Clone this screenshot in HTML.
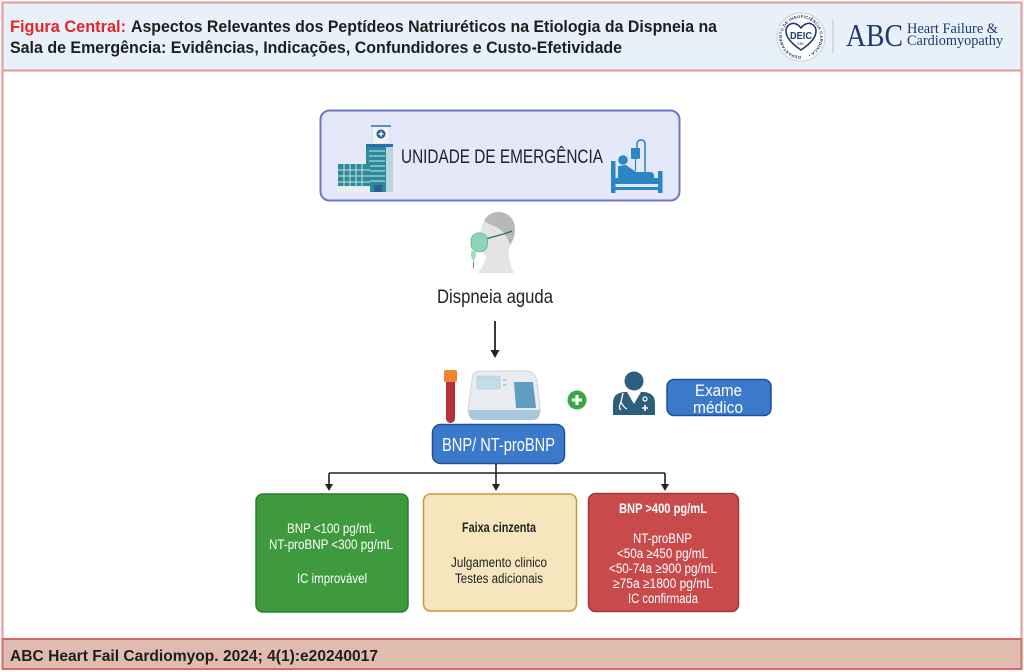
<!DOCTYPE html>
<html><head><meta charset="utf-8">
<style>
html,body{margin:0;padding:0;background:#fff;}
svg{display:block;}
text{font-family:"Liberation Sans Narrow","Liberation Sans",sans-serif;}
</style></head>
<body>
<svg width="1024" height="672" viewBox="0 0 1024 672" xmlns="http://www.w3.org/2000/svg">
<defs>
<path id="ring" d="M 801 56 A 19 19 0 1 1 801.1 56"/>
</defs>
<!-- frame -->
<rect x="0" y="0" width="1024" height="672" fill="#fff"/>
<rect x="2.5" y="2.5" width="1019" height="68" fill="#e8f0f9" stroke="#e59a9a" stroke-width="2"/>
<line x1="2.5" y1="70" x2="2.5" y2="639" stroke="#e59a9a" stroke-width="2"/>
<line x1="1021.5" y1="70" x2="1021.5" y2="639" stroke="#e59a9a" stroke-width="2"/>
<rect x="2.5" y="639" width="1019" height="30" fill="#e0bcaf" stroke="#d9686b" stroke-width="2"/>

<!-- title -->
<text x="10" y="32" font-size="17" font-weight="bold" fill="#e3262b" textLength="116" lengthAdjust="spacingAndGlyphs">Figura Central:</text>
<text x="131" y="32" font-size="17" font-weight="bold" fill="#1e1e1e" textLength="586" lengthAdjust="spacingAndGlyphs">Aspectos Relevantes dos Peptídeos Natriuréticos na Etiologia da Dispneia na</text>
<text x="10" y="53" font-size="17" font-weight="bold" fill="#1e1e1e" textLength="612" lengthAdjust="spacingAndGlyphs">Sala de Emergência: Evidências, Indicações, Confundidores e Custo-Efetividade</text>

<!-- logo seal -->
<circle cx="801" cy="37" r="24" fill="#fff" stroke="#c8cfdc" stroke-width="1"/>
<text font-size="4.2" fill="#1f3a6e" font-weight="bold" letter-spacing="0.3"><textPath href="#ring">DEPARTAMENTO DE INSUFICIÊNCIA CARDÍACA •</textPath></text>
<path d="M801 50 C 792 44, 786 38, 786 31 C 786 25, 792 22, 796 24 C 799 25, 800 27, 801 28 C 802 27, 803 25, 806 24 C 810 22, 816 25, 816 31 C 816 38, 810 44, 801 50 Z" fill="#fff" stroke="#1f3a6e" stroke-width="1.6"/>
<text x="801" y="39" font-size="10" font-weight="bold" fill="#1f3a6e" text-anchor="middle" textLength="22" lengthAdjust="spacingAndGlyphs">DEIC</text>
<text x="801" y="45" font-size="3.5" fill="#1f3a6e" text-anchor="middle">SBC</text>
<line x1="833" y1="20" x2="833" y2="53" stroke="#b8c2d0" stroke-width="1"/>
<text x="846" y="46" font-size="32" fill="#1f3a6e" textLength="57" lengthAdjust="spacingAndGlyphs" style="font-family:'Liberation Serif',serif">ABC</text>
<text x="907" y="33" font-size="14.5" fill="#1f3a6e" textLength="91" lengthAdjust="spacingAndGlyphs" style="font-family:'Liberation Serif',serif">Heart Failure &amp;</text>
<text x="907" y="45" font-size="14.5" fill="#1f3a6e" textLength="96" lengthAdjust="spacingAndGlyphs" style="font-family:'Liberation Serif',serif">Cardiomyopathy</text>

<!-- emergency box -->
<rect x="320.5" y="110.5" width="359" height="90" rx="9" fill="#e4e8f8" stroke="#6b77c4" stroke-width="2"/>
<text x="401" y="163" font-size="19.5" fill="#222" textLength="202" lengthAdjust="spacingAndGlyphs">UNIDADE DE EMERGÊNCIA</text>

<!-- hospital icon -->
<rect x="372" y="126" width="18" height="18" fill="#eef2f4" stroke="#cfd8dc" stroke-width="0.8"/>
<line x1="371" y1="126" x2="391" y2="126" stroke="#2a6fb0" stroke-width="1.5"/>
<circle cx="381" cy="134" r="4.5" fill="#2a5d8a"/>
<path d="M381 131.5v5M378.5 134h5" stroke="#fff" stroke-width="1.4"/>
<rect x="366" y="144" width="27" height="48" fill="#2d8a98"/>
<rect x="366" y="144" width="27" height="3" fill="#2670b0"/>
<rect x="386" y="147" width="7" height="45" fill="#b9d6dc"/>
<g stroke="#9fd0d8" stroke-width="1.4">
<line x1="369" y1="151" x2="385" y2="151"/><line x1="369" y1="156" x2="385" y2="156"/>
<line x1="369" y1="161" x2="385" y2="161"/><line x1="369" y1="166" x2="385" y2="166"/>
<line x1="369" y1="171" x2="385" y2="171"/><line x1="369" y1="176" x2="385" y2="176"/>
<line x1="369" y1="181" x2="385" y2="181"/>
</g>
<rect x="374" y="185" width="8" height="7" fill="#2b5f8e"/>
<rect x="338" y="164" width="32" height="28" fill="#2e8c99"/>
<g stroke="#c7e3e6" stroke-width="1">
<line x1="338" y1="170" x2="370" y2="170"/><line x1="338" y1="176" x2="370" y2="176"/><line x1="338" y1="182" x2="370" y2="182"/>
<line x1="344" y1="164" x2="344" y2="186"/><line x1="350" y1="164" x2="350" y2="186"/><line x1="356" y1="164" x2="356" y2="186"/><line x1="362" y1="164" x2="362" y2="186"/>
</g>
<rect x="338" y="186" width="32" height="6" fill="#e8eef0"/>

<!-- bed icon -->
<g fill="#2a86c4" stroke="none">
<rect x="611" y="161" width="4.5" height="32"/>
<rect x="658" y="171" width="4.5" height="22"/>
<rect x="615" y="178" width="44" height="6"/>
<rect x="615" y="187" width="44" height="3"/>
<circle cx="623" cy="160" r="4.8"/>
<path d="M618 166 L626 165 L636 172 L650 172 Q 654 172 654 176 L 654 178 L 618 178 Z"/>
<rect x="631" y="148" width="9" height="11" rx="1"/>
</g>
<path d="M635.5 159 L635.5 171" stroke="#2a86c4" stroke-width="1.2" fill="none"/>
<path d="M637 148 L637 144 Q637 140 641 140 Q645 140 645 144 L645 178" stroke="#2a86c4" stroke-width="1.5" fill="none"/>

<!-- head with mask (profile facing left) -->
<path d="M498 212 C 508 212, 515 219, 515 229 C 515 236, 512 242, 509 248 C 508 256, 510 264, 514 273 L 478 273 C 483 266, 486 260, 486 256 L 483 253 L 481 248 L 479 244 L 480 241 L 476 238 L 480 233 C 481 229, 482 225, 484 221 C 487 215, 492 212, 498 212 Z" fill="#e4e4e4"/>
<path d="M484 221 C 487 215, 492 212, 498 212 C 508 212, 515 219, 515 229 C 515 236, 513 241, 510 245 C 508 238, 504 232, 498 228 C 493 225, 488 224, 484 221 Z" fill="#b8b8b8"/>
<path d="M486 239 C 494 236, 503 235, 512 231" stroke="#2f6d4e" stroke-width="1.3" fill="none"/>
<path d="M471 241 C 471 234, 478 231, 484 234 C 489 237, 489 246, 485 250 C 480 254, 472 251, 471 246 Z" fill="#8fd3b6" stroke="#5aa88a" stroke-width="0.6"/>
<rect x="471" y="251" width="5" height="5" fill="#9edcc2"/>
<path d="M471 256 L476 256 L473.5 262 Z" fill="#9edcc2"/>
<line x1="473.5" y1="262" x2="473.5" y2="268" stroke="#8a8a8a" stroke-width="1.2"/>

<text x="437" y="303" font-size="19.5" fill="#222" textLength="116" lengthAdjust="spacingAndGlyphs">Dispneia aguda</text>

<!-- arrow down -->
<line x1="495" y1="321" x2="495" y2="352" stroke="#222" stroke-width="1.8"/>
<path d="M490.5 350 L499.5 350 L495 358 Z" fill="#222"/>

<!-- test tube -->
<rect x="446" y="378" width="9" height="45" rx="4.5" fill="#b5303a"/>
<rect x="444" y="370" width="13" height="12" rx="2" fill="#f08332"/>

<!-- analyzer machine -->
<path d="M472 380 Q 472 371, 481 371 L 526 371 Q 534 371, 537 380 L 540 408 Q 541 418, 532 418 L 476 418 Q 468 418, 468 410 Z" fill="#e9edf0" stroke="#cdd5da" stroke-width="1"/>
<path d="M469 410 L 540 410 L 540 412 Q 540 420, 532 420 L 476 420 Q 469 420, 469 414 Z" fill="#a8c8dc"/>
<rect x="477" y="376" width="23" height="13" rx="1.5" fill="#c3dcea" stroke="#a8c3d3" stroke-width="0.6"/>
<path d="M514 382 L 533 382 L 536 408 L 516 408 Z" fill="#5e9ec2"/>
<rect x="503" y="379" width="3" height="2" fill="#b7c8d2"/><rect x="503" y="384" width="3" height="2" fill="#b7c8d2"/>

<!-- plus -->
<circle cx="577" cy="400" r="9.5" fill="#3aa84a"/>
<path d="M577 395v10M572 400h10" stroke="#fff" stroke-width="3"/>

<!-- doctor -->
<circle cx="634" cy="381" r="9.5" fill="#2d5f7c"/>
<path d="M613 415 L613 403 Q613 393 624 392 L644 392 Q655 393 655 403 L655 415 Z" fill="#2d5f7c"/>
<path d="M627 392 L634 404 L641 392 Z" fill="#fff"/>
<path d="M623 393 L621 402 Q618 408 621 410 M621 402 Q624 408 627 409" stroke="#fff" stroke-width="1.3" fill="none"/>
<circle cx="645" cy="399" r="2" fill="none" stroke="#fff" stroke-width="1.2"/>
<path d="M645 405v6M642 408h6" stroke="#fff" stroke-width="1.6"/>

<!-- Exame medico -->
<rect x="667" y="379.5" width="104" height="36" rx="7" fill="#3b7acb" stroke="#1f4f9a" stroke-width="1.5"/>
<text x="695" y="396" font-size="16.5" fill="#fff" textLength="47" lengthAdjust="spacingAndGlyphs">Exame</text>
<text x="693" y="413" font-size="16.5" fill="#fff" textLength="50" lengthAdjust="spacingAndGlyphs">médico</text>

<!-- BNP box -->
<rect x="432.5" y="424.5" width="132" height="39" rx="8" fill="#3b7acb" stroke="#1f4f9a" stroke-width="1.5"/>
<text x="442" y="451" font-size="18" fill="#fff" textLength="113" lengthAdjust="spacingAndGlyphs">BNP/ NT-proBNP</text>

<!-- connectors -->
<g stroke="#222" stroke-width="1.6" fill="none">
<line x1="496" y1="464" x2="496" y2="486"/>
<line x1="329" y1="473" x2="665" y2="473"/>
<line x1="329" y1="473" x2="329" y2="486"/>
<line x1="665" y1="473" x2="665" y2="486"/>
</g>
<g fill="#222">
<path d="M325 484 L333 484 L329 491 Z"/>
<path d="M492 484 L500 484 L496 491 Z"/>
<path d="M661 484 L669 484 L665 491 Z"/>
</g>

<!-- green box -->
<rect x="256" y="494" width="152" height="118" rx="7" fill="#3f9a3d" stroke="#2c7a2d" stroke-width="1.5"/>
<g fill="#fff" font-size="13.5">
<text x="287" y="533" textLength="88" lengthAdjust="spacingAndGlyphs">BNP &lt;100 pg/mL</text>
<text x="269" y="549" textLength="124" lengthAdjust="spacingAndGlyphs">NT-proBNP &lt;300 pg/mL</text>
<text x="297" y="583" textLength="70" lengthAdjust="spacingAndGlyphs">IC improvável</text>
</g>

<!-- yellow box -->
<rect x="423.5" y="494" width="153" height="117" rx="7" fill="#f5e6bd" stroke="#c9963a" stroke-width="1.5"/>
<g fill="#222" font-size="13.5">
<text x="462" y="532" font-weight="bold" textLength="74" lengthAdjust="spacingAndGlyphs">Faixa cinzenta</text>
<text x="451" y="567" textLength="96" lengthAdjust="spacingAndGlyphs">Julgamento clinico</text>
<text x="455" y="583" textLength="88" lengthAdjust="spacingAndGlyphs">Testes adicionais</text>
</g>

<!-- red box -->
<rect x="588.5" y="493.5" width="150" height="118" rx="7" fill="#c94a4b" stroke="#a53637" stroke-width="1.5"/>
<g fill="#fff" font-size="13.5">
<text x="619" y="513" font-weight="bold" textLength="88" lengthAdjust="spacingAndGlyphs">BNP &gt;400 pg/mL</text>
<text x="633" y="543" textLength="59" lengthAdjust="spacingAndGlyphs">NT-proBNP</text>
<text x="617" y="558" textLength="91" lengthAdjust="spacingAndGlyphs">&lt;50a ≥450 pg/mL</text>
<text x="609" y="573" textLength="108" lengthAdjust="spacingAndGlyphs">&lt;50-74a ≥900 pg/mL</text>
<text x="613" y="588" textLength="100" lengthAdjust="spacingAndGlyphs">≥75a ≥1800 pg/mL</text>
<text x="628" y="603" textLength="70" lengthAdjust="spacingAndGlyphs">IC confirmada</text>
</g>

<!-- footer text -->
<text x="10" y="661" font-size="15.5" font-weight="bold" fill="#1e1e1e" textLength="368" lengthAdjust="spacingAndGlyphs">ABC Heart Fail Cardiomyop. 2024; 4(1):e20240017</text>
</svg>
</body></html>
